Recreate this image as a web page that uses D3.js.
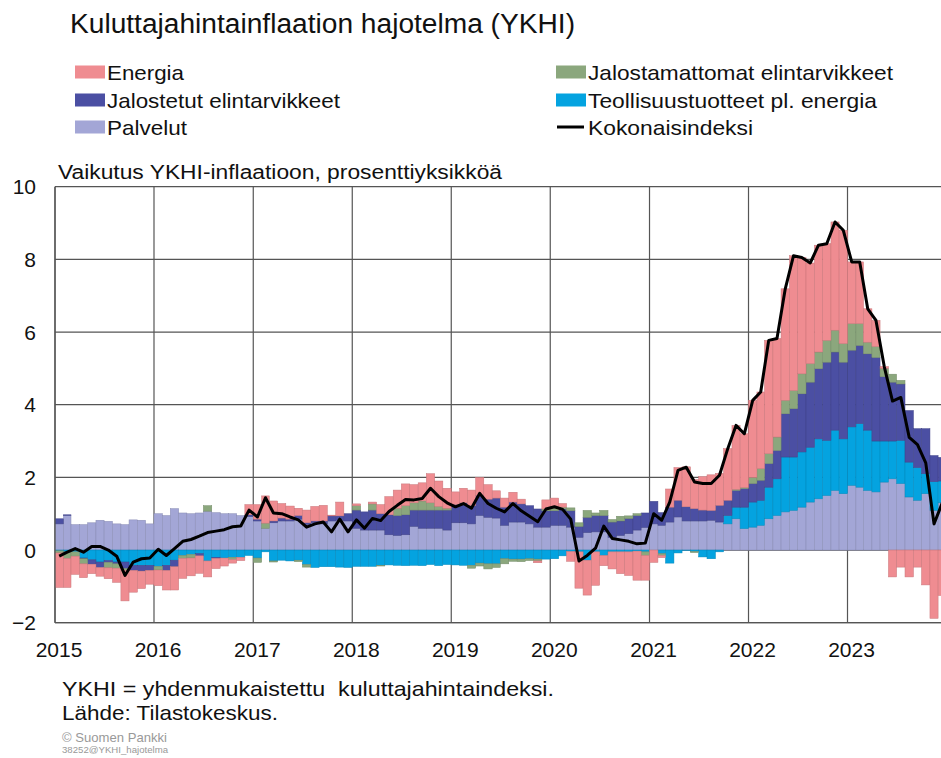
<!DOCTYPE html>
<html><head><meta charset="utf-8">
<script src="https://d3js.org/d3.v7.min.js"></script>
<style>
html,body{margin:0;padding:0;background:#fff;}
svg{display:block;font-family:"Liberation Sans",Arial,sans-serif;}
</style></head>
<body><svg id="c" width="941" height="758"></svg>
<script>
// ---- data (contributions to HICP inflation, percentage points), Jan 2015 – Dec 2023 ----
const startMonth = "2015-01";
const yearTicks = [2015,2016,2017,2018,2019,2020,2021,2022,2023];
const yTicks = [-2,0,2,4,6,8,10];
const seriesKeys = ["palvelut","teollisuus","jalostetut","jalostamattomat","energia"];
const seriesNames = {
  energia:"Energia", jalostamattomat:"Jalostamattomat elintarvikkeet",
  jalostetut:"Jalostetut elintarvikkeet", teollisuus:"Teollisuustuotteet pl. energia",
  palvelut:"Palvelut", kokonais:"Kokonaisindeksi"};

const palvelut = [0.72,0.95,0.70,0.70,0.75,0.82,0.79,0.72,0.70,0.83,0.82,0.72,
 1.00,0.95,1.14,1.02,1.00,1.02,1.07,1.03,1.00,1.00,0.95,0.92,
 0.80,0.60,0.75,0.80,0.80,0.85,0.70,0.75,0.72,0.80,0.82,0.80,
 0.60,0.55,0.55,0.55,0.42,0.40,0.42,0.65,0.60,0.60,0.60,0.55,
 0.75,0.75,0.72,0.95,0.90,0.88,0.68,0.77,0.77,0.72,0.63,0.63,
 0.68,0.68,0.63,0.35,0.48,0.50,0.50,0.35,0.40,0.45,0.55,0.62,
 0.72,0.68,0.77,0.91,0.80,0.80,0.80,0.82,0.77,0.72,0.86,0.59,
 0.63,0.68,0.86,0.95,1.05,1.09,1.18,1.32,1.41,1.50,1.64,1.55,
 1.78,1.73,1.64,1.60,1.87,1.96,1.83,1.46,1.37,1.55,1.09,1.30];
const teollisuus = [-0.02,-0.05,-0.05,-0.22,-0.27,-0.33,-0.29,-0.33,-0.33,-0.42,-0.42,-0.42,
 -0.45,-0.42,-0.28,-0.15,-0.12,-0.10,-0.30,-0.20,-0.22,-0.20,-0.20,-0.15,
 -0.22,-0.05,-0.30,-0.28,-0.30,-0.28,-0.40,-0.48,-0.46,-0.46,-0.47,-0.48,
 -0.45,-0.45,-0.45,-0.42,-0.41,-0.42,-0.43,-0.42,-0.43,-0.40,-0.43,-0.40,
 -0.41,-0.42,-0.42,-0.36,-0.38,-0.38,-0.24,-0.25,-0.25,-0.24,-0.25,-0.25,
 -0.24,-0.16,-0.04,-0.05,-0.28,-0.05,-0.15,-0.05,-0.05,-0.05,-0.03,-0.05,
 0.00,-0.10,-0.36,-0.08,-0.01,-0.04,-0.19,-0.24,-0.05,0.23,0.32,0.59,
 0.69,0.69,0.87,1.01,1.51,1.47,1.52,1.51,1.65,1.52,1.66,1.51,
 1.61,1.75,1.66,1.40,1.13,1.04,1.19,0.96,0.90,0.55,0.79,0.60];
const jalostetut = [0.14,0.02,0.00,-0.02,-0.12,-0.15,-0.05,-0.05,-0.18,-0.14,-0.16,-0.14,
 0.00,-0.14,-0.18,0.00,0.00,-0.06,0.00,-0.03,0.00,0.00,0.00,0.05,
 0.05,0.00,0.05,0.08,0.05,0.10,0.05,0.05,0.08,0.14,0.12,0.20,
 0.50,0.50,0.55,0.45,0.55,0.55,0.55,0.45,0.50,0.50,0.50,0.55,
 0.50,0.55,0.50,0.55,0.50,0.55,0.50,0.55,0.50,0.50,0.50,0.45,
 0.40,0.45,0.45,0.30,0.42,0.45,0.45,0.42,0.40,0.42,0.40,0.40,
 0.62,0.35,0.41,0.46,0.39,0.34,0.30,0.27,0.46,0.42,0.46,0.51,
 0.51,0.55,0.65,0.78,1.19,1.33,1.60,1.79,1.93,2.15,2.15,2.11,
 2.11,2.15,2.10,2.30,1.77,1.62,1.55,1.42,1.07,1.24,0.72,0.65];
const jalostamattomat = [-0.06,-0.18,-0.12,-0.14,0.00,0.00,-0.15,-0.12,-0.05,0.00,0.00,0.00,
 -0.10,0.00,0.00,-0.08,-0.10,0.00,0.15,0.00,0.00,-0.06,0.00,0.00,
 -0.12,0.14,-0.03,0.00,0.00,-0.04,-0.07,0.00,0.00,0.00,0.00,0.00,
 0.12,0.00,0.17,-0.02,0.00,0.20,0.25,0.20,0.25,0.20,0.10,0.05,
 0.00,0.00,-0.08,-0.08,-0.14,-0.10,-0.14,-0.06,-0.07,-0.05,-0.05,0.05,
 0.10,0.05,0.08,0.10,0.19,0.07,0.14,0.07,0.13,0.07,0.05,-0.10,
 0.00,-0.05,0.00,0.00,0.00,-0.03,0.00,0.00,0.00,0.00,0.03,0.03,
 0.17,0.32,0.27,0.37,0.37,0.50,0.55,0.51,0.46,0.60,0.60,0.51,
 0.73,0.60,0.32,0.30,0.23,0.22,0.10,0.00,0.00,0.00,0.00,0.00];
const energia = [-0.95,-0.80,-0.50,-0.38,-0.26,-0.24,-0.30,-0.39,-0.84,-0.60,-0.48,-0.38,
 -0.43,-0.54,-0.64,-0.55,-0.49,-0.48,-0.44,-0.28,-0.22,-0.10,-0.09,0.28,
 0.40,0.75,0.55,0.40,0.36,0.20,0.35,0.40,0.43,0.02,0.38,0.00,
 0.05,0.00,0.05,0.25,0.50,0.50,0.60,0.50,0.50,0.80,0.70,0.55,
 0.35,0.40,0.43,0.50,0.40,0.20,0.25,0.27,0.13,0.00,-0.05,0.25,
 0.25,0.10,-0.27,-1.00,-0.96,-0.92,-0.28,-0.47,-0.60,-0.65,-0.80,-0.68,
 -0.34,-0.06,0.50,0.90,1.10,0.80,0.92,0.98,0.88,1.42,1.76,1.48,
 2.12,2.11,3.12,2.71,3.07,3.71,3.20,2.77,2.94,2.66,2.98,3.12,
 1.70,1.70,0.92,0.72,0.05,-0.74,-0.47,-0.74,-0.47,-0.96,-1.88,-1.25];
const kokonais = [-0.17,-0.06,0.04,-0.06,0.10,0.10,0.00,-0.17,-0.70,-0.33,-0.24,-0.22,
 0.02,-0.15,0.04,0.24,0.29,0.38,0.48,0.52,0.56,0.64,0.66,1.10,
 0.91,1.44,1.02,1.00,0.91,0.83,0.63,0.72,0.77,0.50,0.85,0.50,
 0.83,0.60,0.87,0.81,1.06,1.23,1.39,1.38,1.42,1.70,1.47,1.30,
 1.19,1.28,1.15,1.56,1.28,1.15,1.05,1.28,1.08,0.93,0.78,1.13,
 1.19,1.12,0.85,-0.30,-0.15,0.05,0.66,0.32,0.28,0.24,0.17,0.19,
 1.00,0.82,1.32,2.19,2.28,1.87,1.83,1.83,2.06,2.79,3.43,3.20,
 4.12,4.35,5.77,5.82,7.19,8.10,8.05,7.90,8.39,8.43,9.03,8.80,
 7.93,7.93,6.64,6.32,5.05,4.10,4.20,3.10,2.90,2.40,0.72,1.30];

const colors = {energia:"#EF8C91", jalostamattomat:"#8BA77D", jalostetut:"#4B4FA3",
  teollisuus:"#04A3E0", palvelut:"#A3A6D6"};

(function(){
// ---- build table ----
const parseM = d3.timeParse("%Y-%m");
const months = d3.timeMonth.range(parseM(startMonth), d3.timeMonth.offset(parseM(startMonth), kokonais.length));
const table = months.map((m,i)=>({date:m, palvelut:palvelut[i], teollisuus:teollisuus[i],
  jalostetut:jalostetut[i], jalostamattomat:jalostamattomat[i], energia:energia[i], kokonais:kokonais[i]}));

const svg = d3.select("#c");
const W = 941, H = 758;
const pLeft = 55, pTop = 186.7, pBottom = 622.7;
const x = d3.scaleTime().domain([new Date(2015,0,1), new Date(2024,0,1)]).range([pLeft, 946.5]);
const y = d3.scaleLinear().domain([-2,10]).range([pBottom, pTop]);

svg.append("rect").attr("width",W).attr("height",H).attr("fill","#fff");
svg.append("defs").append("clipPath").attr("id","pc").append("rect")
  .attr("x",pLeft).attr("y",pTop-6).attr("width",W-pLeft).attr("height",pBottom-pTop+12);

// title
svg.append("text").attr("x",70).attr("y",33).attr("font-size",27).attr("fill","#111")
  .attr("textLength",505).attr("lengthAdjust","spacingAndGlyphs")
  .text("Kuluttajahintainflaation hajotelma (YKHI)");

// legend
const legendItems = [
  {k:"energia", x:75, y:72, w:77},
  {k:"jalostamattomat", x:556, y:72, w:305},
  {k:"jalostetut", x:75, y:100, w:233},
  {k:"teollisuus", x:556, y:100, w:289},
  {k:"palvelut", x:75, y:127, w:80},
  {k:"kokonais", x:556, y:127, w:165}];
const lg = svg.append("g");
legendItems.forEach(it=>{
  if(it.k==="kokonais"){
    lg.append("line").attr("x1",it.x+1).attr("x2",it.x+28).attr("y1",it.y).attr("y2",it.y)
      .attr("stroke","#000").attr("stroke-width",3);
  } else {
    lg.append("rect").attr("x",it.x).attr("y",it.y-6.5).attr("width",30).attr("height",13)
      .attr("fill",colors[it.k]);
  }
  lg.append("text").attr("x",it.x+32).attr("y",it.y+7.5).attr("font-size",21).attr("fill","#111")
    .attr("textLength",it.w).attr("lengthAdjust","spacingAndGlyphs").text(seriesNames[it.k]);
});

// y-axis title
svg.append("text").attr("x",58).attr("y",179).attr("font-size",19.5).attr("fill","#111")
  .attr("textLength",444).attr("lengthAdjust","spacingAndGlyphs")
  .text("Vaikutus YKHI-inflaatioon, prosenttiyksikköä");

// grid
const grid = svg.append("g").attr("stroke","#555").attr("stroke-width",1.2);
yTicks.forEach(v=>{
  grid.append("line").attr("x1",pLeft).attr("x2",W).attr("y1",y(v)).attr("y2",y(v));
});
yearTicks.forEach(yr=>{
  const xx = x(new Date(yr,0,1));
  grid.append("line").attr("x1",xx).attr("x2",xx).attr("y1",pTop).attr("y2",pBottom);
});

// stacked bars
const stack = d3.stack().keys(seriesKeys).offset(d3.stackOffsetDiverging);
const stacked = stack(table);
const barsG = svg.append("g").attr("clip-path","url(#pc)");
stacked.forEach(s=>{
  const col = colors[s.key];
  barsG.append("g").selectAll("rect").data(s).join("rect")
    .attr("x", d=>x(d.data.date))
    .attr("width", d=>x(d3.timeMonth.offset(d.data.date,1))-x(d.data.date))
    .attr("y", d=>y(Math.max(d[0],d[1])))
    .attr("height", d=>Math.abs(y(d[0])-y(d[1])))
    .attr("fill", col)
    .attr("stroke", d3.color(col).darker(0.5))
    .attr("stroke-width",0.5);
});

// total line
const mid = d=>x(d.date) + (x(d3.timeMonth.offset(d.date,1))-x(d.date))/2;
barsG.append("path").datum(table)
  .attr("d", d3.line().x(mid).y(d=>y(d.kokonais)))
  .attr("fill","none").attr("stroke","#000").attr("stroke-width",3).attr("stroke-linejoin","round");

// axes frame (left & bottom)
svg.append("line").attr("x1",pLeft).attr("x2",pLeft).attr("y1",pTop).attr("y2",pBottom)
  .attr("stroke","#555").attr("stroke-width",1.3);
svg.append("line").attr("x1",pLeft).attr("x2",W).attr("y1",pBottom).attr("y2",pBottom)
  .attr("stroke","#555").attr("stroke-width",1.3);

// y tick labels
const yl = svg.append("g").attr("font-size",21).attr("fill","#111").attr("text-anchor","end");
yTicks.forEach(v=>{
  yl.append("text").attr("x",36).attr("y",y(v)+7.5).text(v<0 ? "\u2212"+Math.abs(v) : v);
});
// x tick labels
const xl = svg.append("g").attr("font-size",21).attr("fill","#111").attr("text-anchor","middle");
yearTicks.forEach(yr=>{
  xl.append("text").attr("x",x(new Date(yr,0,1))+4).attr("y",657).text(yr);
});

// footnotes
svg.append("text").attr("x",62).attr("y",696).attr("font-size",21).attr("fill","#111")
  .style("white-space","pre").attr("textLength",492).attr("lengthAdjust","spacingAndGlyphs")
  .text("YKHI = yhdenmukaistettu  kuluttajahintaindeksi.");
svg.append("text").attr("x",62).attr("y",720).attr("font-size",21).attr("fill","#111")
  .attr("textLength",216).attr("lengthAdjust","spacingAndGlyphs")
  .text("Lähde: Tilastokeskus.");
svg.append("text").attr("x",62).attr("y",742).attr("font-size",13).attr("fill","#999")
  .attr("textLength",105).attr("lengthAdjust","spacingAndGlyphs")
  .text("© Suomen Pankki");
svg.append("text").attr("x",62).attr("y",753).attr("font-size",9).attr("fill","#999")
  .attr("textLength",106).attr("lengthAdjust","spacingAndGlyphs")
  .text("38252@YKHI_hajotelma");
})();
</script></body></html>
